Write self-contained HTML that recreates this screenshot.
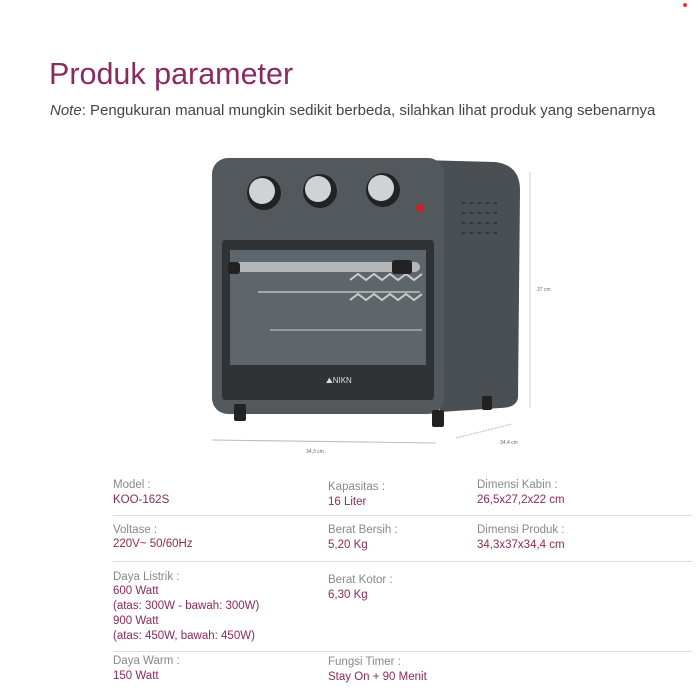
<!DOCTYPE html>
<html><head><style>
body{margin:0;width:700px;height:700px;background:#fff;position:relative;overflow:hidden;font-family:"Liberation Sans",sans-serif}
.a{position:absolute;white-space:nowrap}
.l{color:#888;font-size:11.5px}
.v{color:#8b2a55;font-size:11.5px;line-height:15px}
.sep{position:absolute;left:113px;width:580px;height:1px;background:#ddd}
</style></head><body>
<div style="position:absolute;left:683px;top:3px;width:4px;height:4px;border-radius:50%;background:#e33"></div>
<div class="a" style="left:49px;top:57px;font-size:30.5px;color:#8b2a5f">Produk parameter</div>
<div class="a" style="left:50px;top:102px;font-size:15px;color:#444"><i>Note</i>: Pengukuran manual mungkin sedikit berbeda, silahkan lihat produk yang sebenarnya</div>

<svg class="a" style="left:0;top:0" width="700" height="460">
<path d="M420 160 L495 162 Q520 165 520 190 L518 398 Q516 408 500 408 L440 412 Z" fill="#4a4f54"/>
<rect x="212" y="158" width="232" height="256" rx="16" fill="#53585d"/>
<rect x="222" y="240" width="212" height="160" rx="3" fill="#2f3336"/>
<rect x="230" y="250" width="196" height="115" fill="#5f666b"/>
<path d="M350 280 l8 -6 8 6 8 -6 8 6 8 -6 8 6 8 -6 8 6 8 -6 M350 300 l8 -6 8 6 8 -6 8 6 8 -6 8 6 8 -6 8 6 8 -6" stroke="#ccc" fill="none" stroke-width="2"/>
<line x1="258" y1="292" x2="420" y2="292" stroke="#aaa" stroke-width="2"/>
<line x1="270" y1="330" x2="422" y2="330" stroke="#999" stroke-width="2"/>
<rect x="230" y="262" width="190" height="10" rx="5" fill="#b5b8ba"/>
<rect x="228" y="262" width="12" height="12" rx="3" fill="#222"/>
<rect x="392" y="260" width="20" height="14" rx="3" fill="#222"/>
<text x="326" y="383" font-size="8" fill="#ddd" font-family="Liberation Sans">⛰NIKN</text>
<circle cx="264" cy="193" r="17" fill="#222"/><circle cx="262" cy="191" r="13" fill="#d0d3d6"/>
<circle cx="320" cy="191" r="17" fill="#222"/><circle cx="318" cy="189" r="13" fill="#d0d3d6"/>
<circle cx="383" cy="190" r="17" fill="#222"/><circle cx="381" cy="188" r="13" fill="#d0d3d6"/>
<circle cx="420" cy="208" r="4" fill="#c22"/>
<g fill="#333"><rect x="462" y="202" width="3" height="2"/><rect x="470" y="202" width="3" height="2"/><rect x="478" y="202" width="3" height="2"/><rect x="486" y="202" width="3" height="2"/><rect x="494" y="202" width="3" height="2"/>
<rect x="462" y="212" width="3" height="2"/><rect x="470" y="212" width="3" height="2"/><rect x="478" y="212" width="3" height="2"/><rect x="486" y="212" width="3" height="2"/><rect x="494" y="212" width="3" height="2"/>
<rect x="462" y="222" width="3" height="2"/><rect x="470" y="222" width="3" height="2"/><rect x="478" y="222" width="3" height="2"/><rect x="486" y="222" width="3" height="2"/><rect x="494" y="222" width="3" height="2"/>
<rect x="462" y="232" width="3" height="2"/><rect x="470" y="232" width="3" height="2"/><rect x="478" y="232" width="3" height="2"/><rect x="486" y="232" width="3" height="2"/><rect x="494" y="232" width="3" height="2"/></g>
<rect x="234" y="404" width="12" height="17" rx="2" fill="#222"/>
<rect x="432" y="410" width="12" height="17" rx="2" fill="#222"/>
<rect x="482" y="396" width="10" height="14" rx="2" fill="#222"/>
<line x1="212" y1="440" x2="436" y2="443" stroke="#bbb"/>
<line x1="456" y1="438" x2="512" y2="424" stroke="#bbb" stroke-dasharray="2 1"/>
<line x1="530" y1="172" x2="530" y2="408" stroke="#ccc"/>
<text x="306" y="453" font-size="5" fill="#666">34,3 cm</text>
<text x="500" y="444" font-size="5" fill="#666">34,4 cm</text>
<text x="537" y="291" font-size="5" fill="#666">37 cm</text>
</svg>

<div class="a l" style="left:113px;top:479px">Model :</div><div class="a v" style="left:113px;top:493px">KOO-162S</div>
<div class="a l" style="left:328px;top:481px">Kapasitas :</div><div class="a v" style="left:328px;top:495px">16 Liter</div>
<div class="a l" style="left:477px;top:479px">Dimensi Kabin :</div><div class="a v" style="left:477px;top:493px">26,5x27,2x22 cm</div>
<div class="sep" style="top:515px"></div>
<div class="a l" style="left:113px;top:524px">Voltase :</div><div class="a v" style="left:113px;top:537px">220V~ 50/60Hz</div>
<div class="a l" style="left:328px;top:524px">Berat Bersih :</div><div class="a v" style="left:328px;top:538px">5,20 Kg</div>
<div class="a l" style="left:477px;top:524px">Dimensi Produk :</div><div class="a v" style="left:477px;top:538px">34,3x37x34,4 cm</div>
<div class="sep" style="top:561px"></div>
<div class="a l" style="left:113px;top:571px">Daya Listrik :</div>
<div class="a v" style="left:113px;top:584px">600 Watt<br>(atas: 300W - bawah: 300W)<br>900 Watt<br>(atas: 450W, bawah: 450W)</div>
<div class="a l" style="left:328px;top:574px">Berat Kotor :</div><div class="a v" style="left:328px;top:588px">6,30 Kg</div>
<div class="sep" style="top:651px"></div>
<div class="a l" style="left:113px;top:655px">Daya Warm :</div><div class="a v" style="left:113px;top:669px">150 Watt</div>
<div class="a l" style="left:328px;top:656px">Fungsi Timer :</div><div class="a v" style="left:328px;top:670px">Stay On + 90 Menit</div>
</body></html>
